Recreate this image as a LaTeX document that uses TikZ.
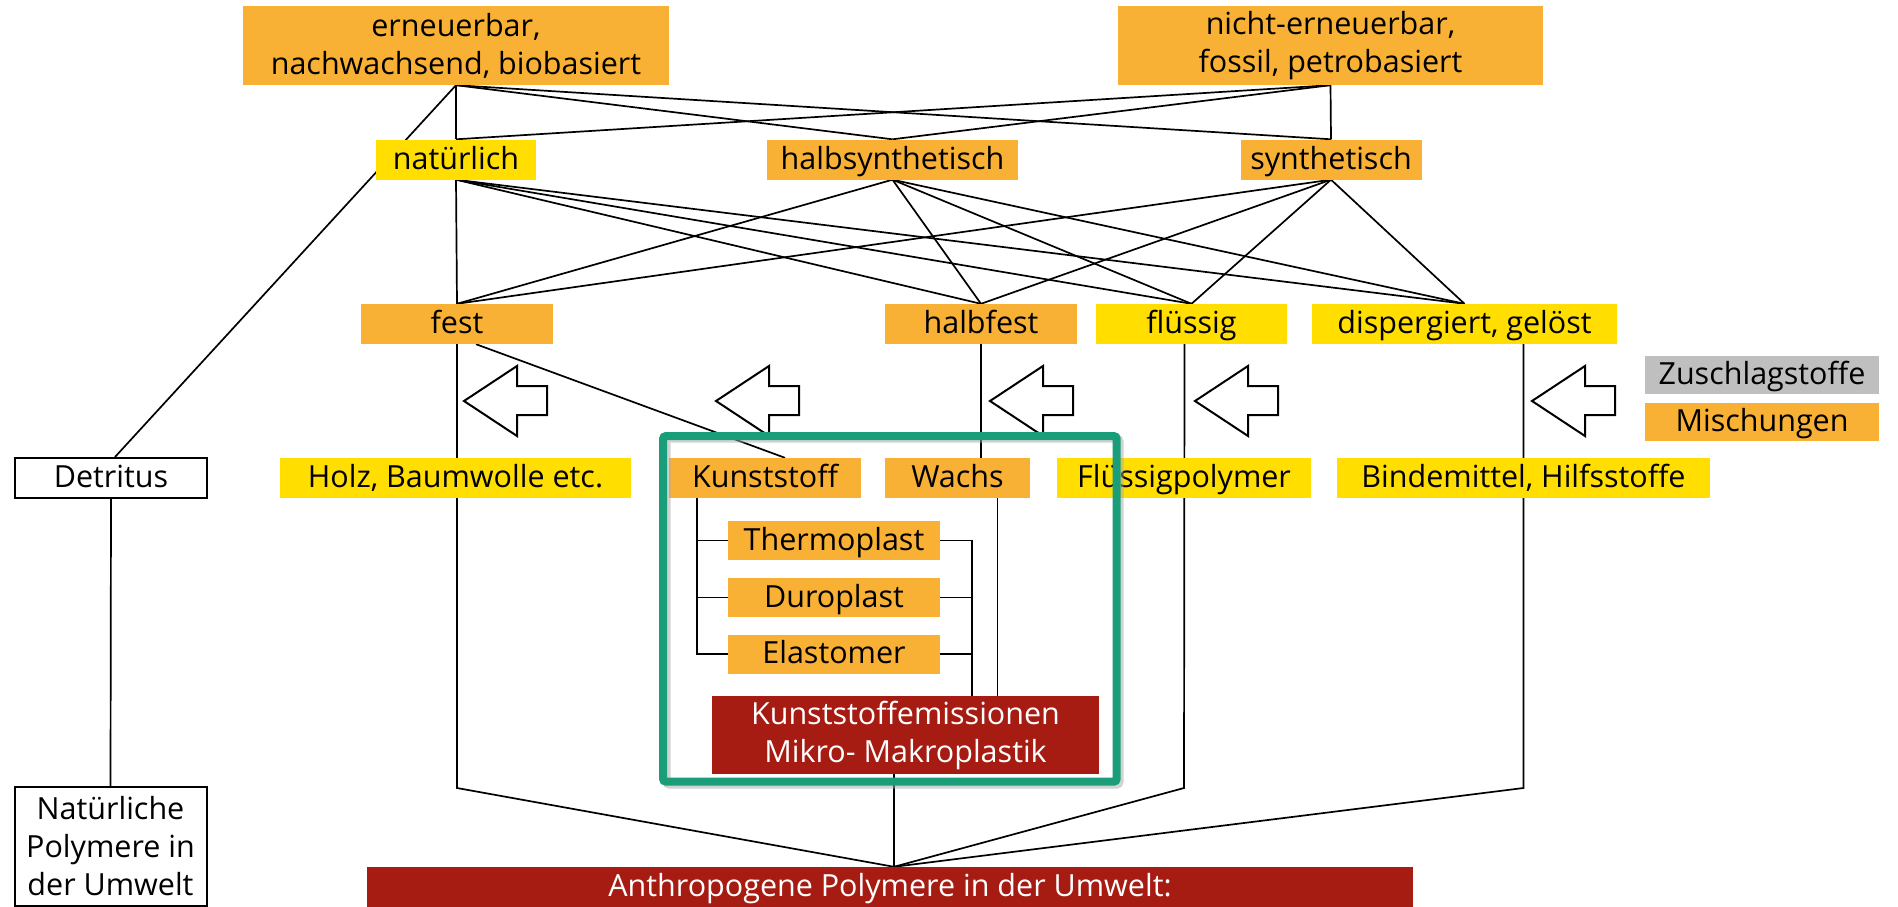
\documentclass[tikz,border=0pt]{standalone}
\usepackage{fontspec}
\setmainfont{Open Sans}
\usetikzlibrary{backgrounds}
\definecolor{orangeF}{RGB}{248,177,52}
\definecolor{yellowF}{RGB}{255,222,0}
\definecolor{greyF}{RGB}{191,191,191}
\definecolor{redF}{RGB}{166,27,18}
\definecolor{tealF}{RGB}{26,158,122}
\newcommand{\boxfont}{\fontsize{30.5}{38}\selectfont}
\begin{document}
\begin{tikzpicture}[x=1pt,y=-1pt,
    box/.style={inner sep=0pt, minimum height=40pt, font=\boxfont, align=center, text height=24pt, text depth=5pt},
    ml/.style={text height={}, text depth={}},
    obox/.style={box, fill=orangeF},
    ybox/.style={box, fill=yellowF},
    gbox/.style={box, fill=greyF},
    rbox/.style={box, fill=redF, text=white},
    wbox/.style={box, fill=white, draw=black, line width=2pt},
    link/.style={line width=1.7pt}]
                \useasboundingbox (0,0) rectangle (1898,907);
                \node[obox, ml, minimum width=426pt, minimum height=79pt] (E) at (456,45.5) {erneuerbar,\\nachwachsend, biobasiert};
                \node[obox, ml, minimum width=425pt, minimum height=79pt] (N) at (1330.5,45.5) {nicht-erneuerbar,\\fossil, petrobasiert};
                \node[ybox, minimum width=160pt] (NA) at (456,159.5) {natürlich};
                \node[obox, minimum width=251pt] (HS) at (892.5,159.5) {halbsynthetisch};
                \node[obox, minimum width=181pt] (SY) at (1331,159.5) {synthetisch};
                \node[obox, minimum width=192pt] (F) at (457,324) {fest};
                \node[obox, minimum width=192pt] (HF) at (981,324) {halbfest};
                \node[ybox, minimum width=191pt] (FL) at (1191.5,324) {flüssig};
                \node[ybox, minimum width=305pt] (DG) at (1464.5,324) {dispergiert, gelöst};
                \node[gbox, minimum width=234pt, minimum height=38pt] (ZS) at (1762,375) {Zuschlagstoffe};
                \node[obox, minimum width=234pt, minimum height=38pt] (MI) at (1762,422) {Mischungen};
                \node[wbox, minimum width=192pt] (DT) at (111,478) {Detritus};
                \node[ybox, minimum width=351pt] (HB) at (455.5,478) {Holz, Baumwolle etc.};
                \node[obox, minimum width=192pt] (K) at (765,478) {Kunststoff};
                \node[obox, minimum width=145pt] (W) at (957.5,478) {Wachs};
                \node[ybox, minimum width=254pt] (FP) at (1184,478) {Flüssigpolymer};
                \node[ybox, minimum width=373pt] (BH) at (1523.5,478) {Bindemittel, Hilfsstoffe};
                \node[obox, minimum width=212pt, minimum height=39pt] (TP) at (834,540.5) {Thermoplast};
                \node[obox, minimum width=212pt, minimum height=39pt] (DP) at (834,597.5) {Duroplast};
                \node[obox, minimum width=212pt, minimum height=39pt] (EL) at (834,654) {Elastomer};
                \node[rbox, ml, minimum width=387pt, minimum height=78pt] (KE) at (905.5,735) {Kunststoffemissionen\\Mikro- Makroplastik};
                \node[wbox, ml, minimum width=192pt, minimum height=119pt] (NP) at (110.5,846.5) {Natürliche\\Polymere in\\der Umwelt};
                \node[rbox, minimum width=1046pt] (AP) at (890,887) {Anthropogene Polymere in der Umwelt:};
                \coordinate (J) at ([xshift=4pt]AP.north);
                \coordinate (low) at (0,788);
                \begin{scope}[on background layer]
                \foreach \t in {E,N}
                    \foreach \m in {NA,HS,SY}
                        \draw[link] (\t.south) -- (\m.north);
                \foreach \m in {NA,HS,SY}
                    \foreach \b in {F,HF,FL,DG}
                        \draw[link] (\m.south) -- (\b.north);
                \draw[link] (E.south) -- ([xshift=4pt]DT.north);
                \draw[link] (DT.south) -- (NP.north);
                \draw[link] ([xshift=19pt]F.south) -- ([xshift=20pt]K.north);
                \draw[link] (F.south) -- (F.south |- low) -- (J);
                \draw[link] ([xshift=-7pt]FL.south) -- (FP.south |- low) -- (J);
                \draw[link] (BH.north |- DG.south) -- (BH.south |- low) -- (J);
                \draw[link] (HF.south) -- (HF.south |- W.north);
                \draw[link] ([xshift=40pt]W.south) -- ([xshift=40pt]W.south |- KE.north);
                \draw[link] ([xshift=-68pt]K.south) |- (TP.west);
                \draw[link] ([xshift=-68pt]K.south) |- (DP.west);
                \draw[link] ([xshift=-68pt]K.south) |- (EL.west);
                \draw[link] (TP.east) -| ([xshift=66.5pt]KE.north);
                \draw[link] (DP.east) -| ([xshift=66.5pt]KE.north);
                \draw[link] (EL.east) -| ([xshift=66.5pt]KE.north);
                \draw[link] (KE.south -| J) -- (J);
                \end{scope}
                \foreach \x in {464,716,990,1195,1532}
                    \draw[line width=2pt, fill=white] (\x,401) -- ++(53,-35) -- ++(0,20) -- ++(30,0) -- ++(0,29) -- ++(-30,0) -- ++(0,21) -- cycle;
                \draw[black!35, opacity=0.5, line width=8pt, rounded corners=3pt] (666.5,438.5) rectangle (1119.5,784.7);
                \draw[tealF, line width=8pt, rounded corners=3pt] (663,436) rectangle (1116.7,781.7);
            \end{tikzpicture}
\end{document}
